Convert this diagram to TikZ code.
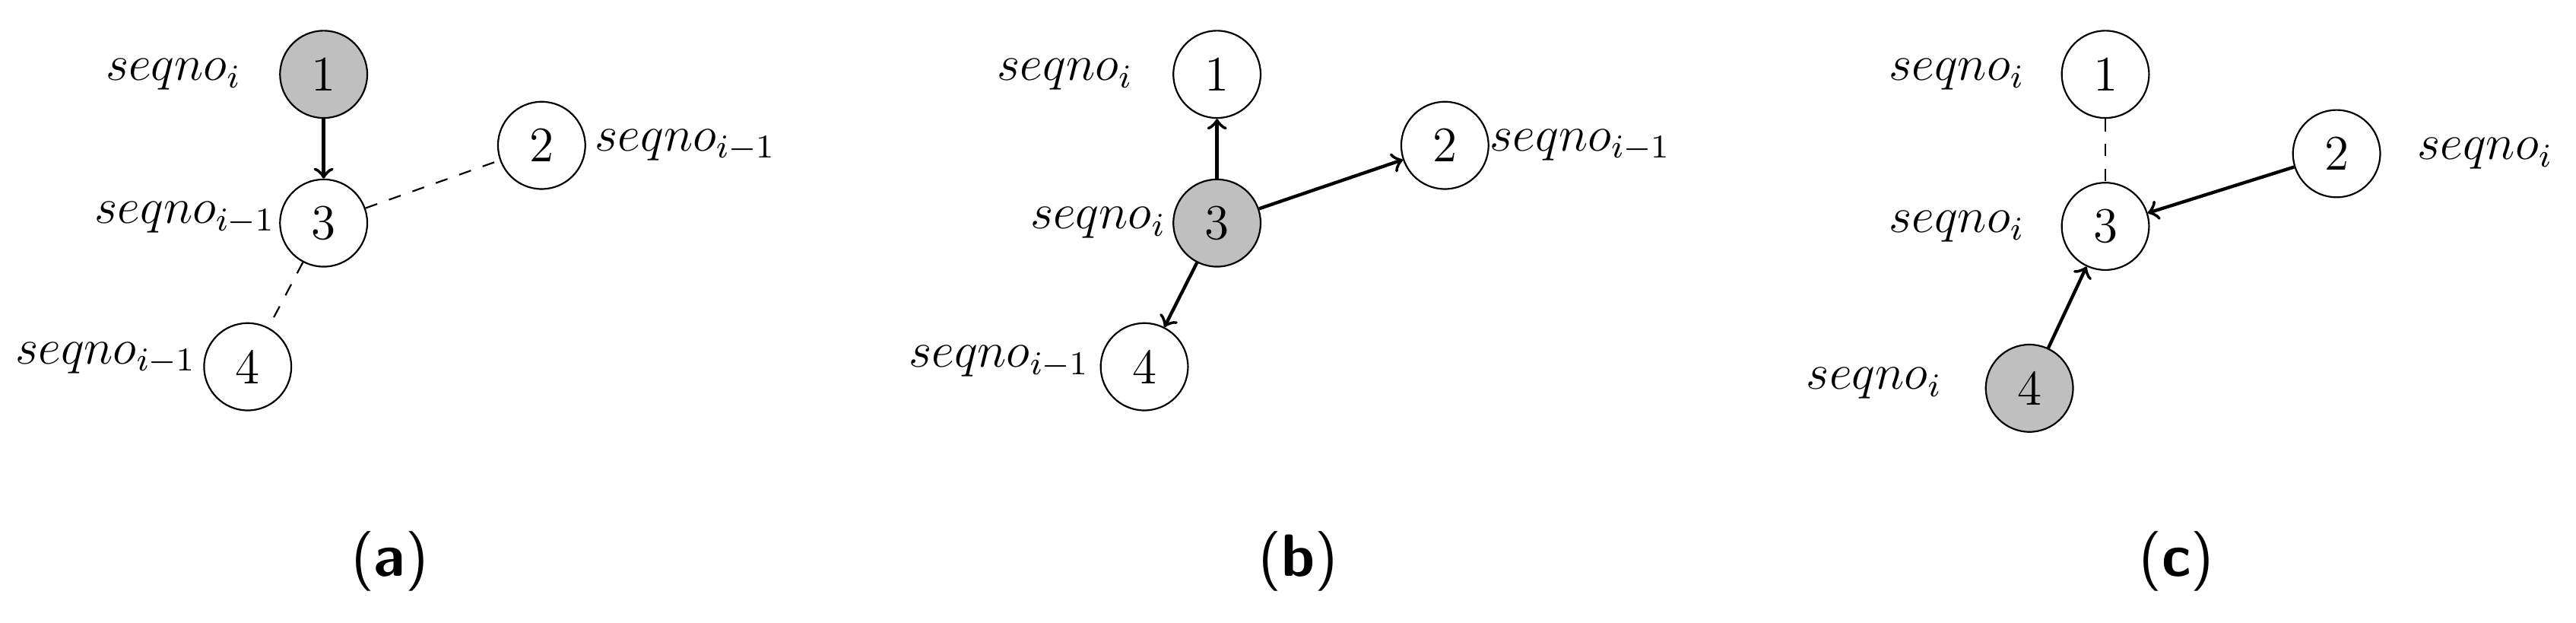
\documentclass[tikz,border=0pt]{standalone}
\usepackage{amsmath, amssymb}
\usepackage{xcolor}
\usetikzlibrary{shapes, arrows, positioning}

\begin{document}
\begin{tikzpicture}[x=0.014cm, y=-0.014cm,
        peer/.style={circle, draw, minimum size=0.74cm, inner sep=0pt, font=\large},
        cur/.style={peer, fill=black!25},
        lbl/.style={font=\large},
        link/.style={thick, ->},
        wait/.style={dashed}]
        \useasboundingbox (0,0) rectangle (1560,377);

        % Panel (a)
        \node[cur] (a1) at (196,45) {1};
        \node[peer] (a3) at (196,135) {3};
        \node[peer] (a2) at (328,88) {2};
        \node[peer] (a4) at (150,222) {4};
        \node[lbl] at (105,45) {$seqno_i$};
        \node[lbl] at (112,132) {$seqno_{i-1}$};
        \node[lbl] at (415,88) {$seqno_{i-1}$};
        \node[lbl] at (64,217) {$seqno_{i-1}$};
        \draw[link] (a1) -- (a3);
        \draw[wait] (a3) -- (a2);
        \draw[wait] (a3) -- (a4);
        \node at (236,340) {\Large\sffamily(\textbf{a})};

        % Panel (b)
        \node[peer] (b1) at (737,45) {1};
        \node[cur] (b3) at (737,135) {3};
        \node[peer] (b2) at (875,88) {2};
        \node[peer] (b4) at (693,222) {4};
        \node[lbl] at (645,45) {$seqno_i$};
        \node[lbl] at (665,135) {$seqno_i$};
        \node[lbl] at (957,88) {$seqno_{i-1}$};
        \node[lbl] at (605,219) {$seqno_{i-1}$};
        \draw[link] (b3) -- (b1);
        \draw[link] (b3) -- (b2);
        \draw[link] (b3) -- (b4);
        \node at (786,340) {\Large\sffamily(\textbf{b})};

        % Panel (c)
        \node[peer] (c1) at (1275,45) {1};
        \node[peer] (c3) at (1275,137) {3};
        \node[peer] (c2) at (1415,93) {2};
        \node[cur] (c4) at (1229,235) {4};
        \node[lbl] at (1185,45) {$seqno_i$};
        \node[lbl] at (1185,137) {$seqno_i$};
        \node[lbl] at (1505,93) {$seqno_i$};
        \node[lbl] at (1135,232) {$seqno_i$};
        \draw[wait] (c1) -- (c3);
        \draw[link] (c2) -- (c3);
        \draw[link] (c4) -- (c3);
        \node at (1318,340) {\Large\sffamily(\textbf{c})};
\end{tikzpicture}
\end{document}
